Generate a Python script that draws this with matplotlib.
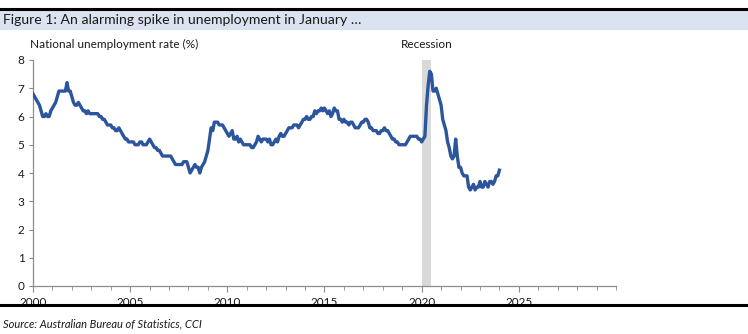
import numpy as np
import matplotlib
matplotlib.use("Agg")
import matplotlib.pyplot as plt
from matplotlib.patches import Rectangle
from matplotlib.lines import Line2D

plt.rcParams['font.family'] = ['Lato', 'DejaVu Sans']

title = "Figure 1: An alarming spike in unemployment in January …"
ylabel_text = "National unemployment rate (%)"
source = "Source: Australian Bureau of Statistics, CCI"
recession_label = "Recession"
recession_start, recession_end = 2020.0, 2020.5

start_year = 2000
rates = [
    # 2000
    6.8, 6.7, 6.6, 6.5, 6.4, 6.2, 6.0, 6.0, 6.1, 6.0, 6.0, 6.2,
    # 2001
    6.3, 6.4, 6.5, 6.7, 6.9, 6.9, 6.9, 6.9, 6.9, 7.2, 6.9, 6.9,
    # 2002
    6.7, 6.5, 6.4, 6.4, 6.5, 6.4, 6.3, 6.2, 6.2, 6.1, 6.2, 6.1,
    # 2003
    6.1, 6.1, 6.1, 6.1, 6.1, 6.0, 6.0, 5.9, 5.9, 5.8, 5.7, 5.7,
    # 2004
    5.7, 5.6, 5.6, 5.5, 5.5, 5.6, 5.5, 5.4, 5.3, 5.2, 5.2, 5.1,
    # 2005
    5.1, 5.1, 5.1, 5.0, 5.0, 5.0, 5.1, 5.1, 5.0, 5.0, 5.0, 5.1,
    # 2006
    5.2, 5.1, 5.0, 4.9, 4.9, 4.8, 4.8, 4.7, 4.6, 4.6, 4.6, 4.6,
    # 2007
    4.6, 4.6, 4.5, 4.4, 4.3, 4.3, 4.3, 4.3, 4.3, 4.4, 4.4, 4.4,
    # 2008
    4.2, 4.0, 4.1, 4.2, 4.3, 4.2, 4.2, 4.0, 4.2, 4.3, 4.4, 4.6,
    # 2009
    4.8, 5.2, 5.6, 5.5, 5.8, 5.8, 5.8, 5.7, 5.7, 5.7, 5.6, 5.5,
    # 2010
    5.4, 5.3, 5.4, 5.5, 5.2, 5.2, 5.3, 5.1, 5.2, 5.1, 5.0, 5.0,
    # 2011
    5.0, 5.0, 5.0, 4.9, 4.9, 5.0, 5.1, 5.3, 5.2, 5.1, 5.2, 5.2,
    # 2012
    5.2, 5.1, 5.2, 5.0, 5.0, 5.1, 5.2, 5.1, 5.3, 5.4, 5.3, 5.3,
    # 2013
    5.4, 5.5, 5.6, 5.6, 5.6, 5.7, 5.7, 5.7, 5.6, 5.7, 5.8, 5.9,
    # 2014
    5.9, 6.0, 5.9, 5.9, 6.0, 6.0, 6.2, 6.1, 6.2, 6.2, 6.3, 6.2,
    # 2015
    6.3, 6.2, 6.1, 6.2, 6.0, 6.1, 6.3, 6.2, 6.2, 5.9, 5.9, 5.8,
    # 2016
    5.9, 5.8, 5.8, 5.7, 5.8, 5.8, 5.7, 5.6, 5.6, 5.6, 5.7, 5.8,
    # 2017
    5.8, 5.9, 5.9, 5.8, 5.6, 5.6, 5.5, 5.5, 5.5, 5.4, 5.4, 5.5,
    # 2018
    5.5, 5.6, 5.5, 5.5, 5.4, 5.3, 5.2, 5.2, 5.1, 5.1, 5.0, 5.0,
    # 2019
    5.0, 5.0, 5.0, 5.1, 5.2, 5.3, 5.3, 5.3, 5.3, 5.3, 5.2, 5.2,
    # 2020
    5.1, 5.2, 5.3, 6.4, 7.1, 7.6, 7.5, 6.9, 6.9, 7.0, 6.8, 6.6,
    # 2021
    6.4, 5.9, 5.7, 5.5, 5.1, 4.9, 4.6, 4.5, 4.6, 5.2, 4.6, 4.2,
    # 2022
    4.2, 4.0, 3.9, 3.9, 3.9, 3.5, 3.4, 3.5, 3.6, 3.4, 3.5, 3.5,
    # 2023
    3.7, 3.5, 3.5, 3.7, 3.6, 3.5, 3.7, 3.7, 3.6, 3.7, 3.9, 3.9,
    # 2024
    4.1,
]

dates = start_year + np.arange(len(rates)) / 12.0
x_ticks = [2000, 2005, 2010, 2015, 2020, 2025]
y_ticks = [0, 1, 2, 3, 4, 5, 6, 7, 8]

W, H = 748, 334
fig = plt.figure(figsize=(W / 100, H / 100), dpi=100)

# title band
fig.patches.append(Rectangle((0, 1 - 30 / H), 1, 21 / H, transform=fig.transFigure,
                             facecolor='#dbe3f1', edgecolor='none', zorder=0))
fig.add_artist(Line2D([0, 1], [1 - 8.5 / H, 1 - 8.5 / H], transform=fig.transFigure,
                      color='black', lw=2.2))
fig.text(3 / W, 1 - 20 / H, title, fontsize=10.1, va='center', ha='left', color='#1a1a1a')

# bottom rule and source
fig.add_artist(Line2D([0, 1], [1 - 305 / H, 1 - 305 / H], transform=fig.transFigure,
                      color='black', lw=2.2))
fig.text(3 / W, 1 - 324 / H, source, fontsize=8, style='italic', va='center', ha='left',
         color='#1a1a1a')

ax = fig.add_axes([33 / W, 1 - 286 / H, (616 - 33) / W, (286 - 60) / H])
ax.axvspan(recession_start, recession_end, ymin=0, ymax=1, color='#d9d9d9', lw=0, zorder=1)
ax.plot(dates, rates, color='#2b559c', lw=2.4, solid_joinstyle='round', zorder=3)

ax.set_xlim(2000, 2030)
ax.set_ylim(0, 8)
ax.set_xticks(x_ticks)
ax.set_xticklabels([str(t) for t in x_ticks])
ax.set_xticks(np.arange(2000, 2031, 1), minor=True)
ax.set_yticks(y_ticks)
ax.set_yticklabels([str(t) for t in y_ticks])

for s in ['top', 'right']:
    ax.spines[s].set_visible(False)
for s in ['left', 'bottom']:
    ax.spines[s].set_color('#8c8c8c')
    ax.spines[s].set_linewidth(0.9)
ax.tick_params(axis='both', which='both', color='#8c8c8c', labelsize=8.5, labelcolor='#1a1a1a')
ax.tick_params(axis='x', which='major', length=4, direction='out', pad=4)
ax.tick_params(axis='x', which='minor', length=3, direction='out')
ax.tick_params(axis='y', which='major', length=3, direction='out', pad=3)

fig.text(30 / W, 1 - 44 / H, ylabel_text, fontsize=8.5, va='center', ha='left', color='#1a1a1a')
fig.text(427 / W, 1 - 44 / H, recession_label, fontsize=8.5, va='center', ha='center',
         color='#1a1a1a')

fig.savefig('out.png', dpi=100)
